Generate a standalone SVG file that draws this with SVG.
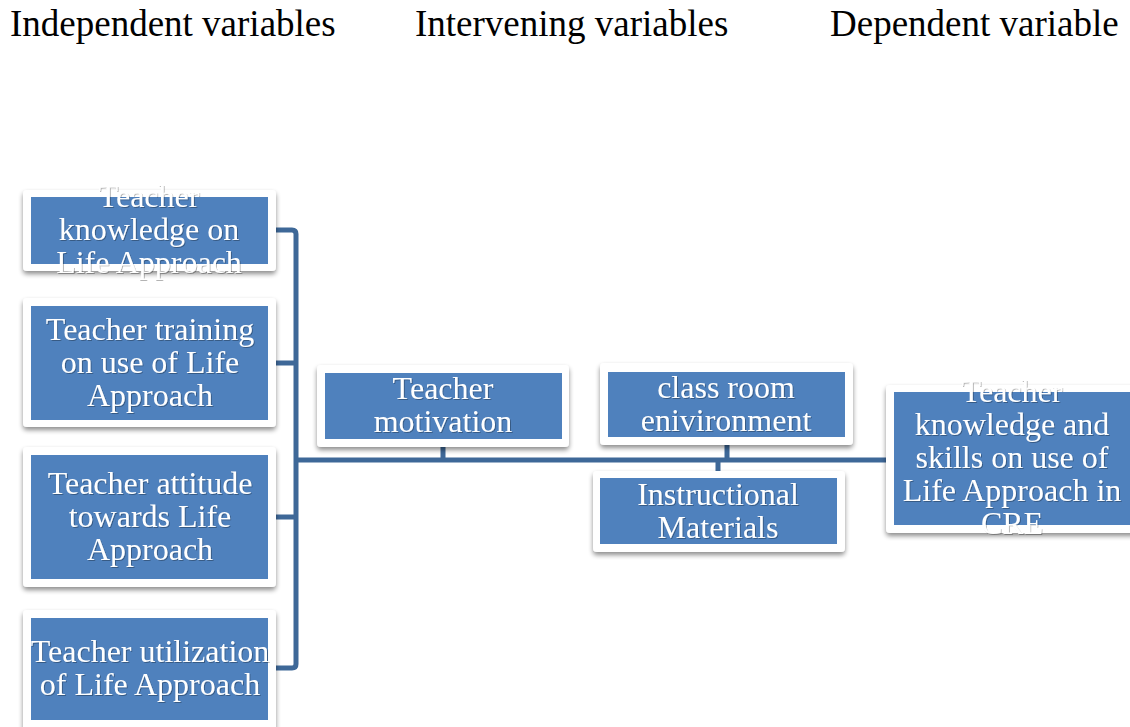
<svg xmlns="http://www.w3.org/2000/svg" width="1130" height="727" viewBox="0 0 1130 727">
<defs>
<filter id="sh" x="-10%" y="-10%" width="120%" height="130%">
<feGaussianBlur in="SourceAlpha" stdDeviation="2.5"/>
<feOffset dx="0" dy="3" result="b"/>
<feComponentTransfer><feFuncA type="linear" slope="0.45"/></feComponentTransfer>
<feMerge><feMergeNode/><feMergeNode in="SourceGraphic"/></feMerge>
</filter>
<filter id="tsh" x="-5%" y="-10%" width="110%" height="130%">
<feGaussianBlur in="SourceAlpha" stdDeviation="0.6"/>
<feOffset dx="0.5" dy="1" result="b"/>
<feComponentTransfer><feFuncA type="linear" slope="0.3"/></feComponentTransfer>
<feMerge><feMergeNode/><feMergeNode in="SourceGraphic"/></feMerge>
</filter>
</defs>
<style>
.hdr{font-family:"Liberation Serif","Times New Roman",serif;font-size:37px;fill:#000}
.frame{fill:#fff;filter:url(#sh)}
.blue{fill:#4f81bd}
.lbl{font-family:"Liberation Serif","Times New Roman",serif;font-size:32px;fill:#fff;text-anchor:middle;filter:url(#tsh)}
.conn{fill:none;stroke:#3e6898;stroke-width:5}
</style>
<rect width="1130" height="727" fill="#fff"/>
<g id="headers">
<text class="hdr" x="10" y="36">Independent variables</text>
<text class="hdr" x="415" y="36">Intervening variables</text>
<text class="hdr" x="830" y="36">Dependent variable</text>
</g>
<g id="connectors">
<path class="conn" d="M276 230 H292 Q296 230 296 234 V664 Q296 668 292 668 H276"/>
<path class="conn" d="M276 363 H296 M276 517 H296"/>
<path class="conn" d="M296 460 H886"/>
<path class="conn" d="M443 446 V460 M727 445 V460 M718 460 V471"/>
</g>
<g id="n1">
<rect class="frame" x="23" y="190" width="253" height="81" rx="4"/>
<rect class="blue" x="31" y="197" width="237" height="67"/>
<text class="lbl" x="149" y="207">Teacher</text>
<text class="lbl" x="149" y="240">knowledge on</text>
<text class="lbl" x="149" y="273">Life Approach</text>
</g>
<g id="n2">
<rect class="frame" x="23" y="298" width="253" height="129" rx="4"/>
<rect class="blue" x="31" y="306" width="237" height="114"/>
<text class="lbl" x="150" y="340">Teacher training</text>
<text class="lbl" x="150" y="373">on use of Life</text>
<text class="lbl" x="150" y="406">Approach</text>
</g>
<g id="n3">
<rect class="frame" x="23" y="447" width="253" height="140" rx="4"/>
<rect class="blue" x="31" y="455" width="237" height="124"/>
<text class="lbl" x="150" y="494">Teacher attitude</text>
<text class="lbl" x="150" y="527">towards Life</text>
<text class="lbl" x="150" y="560">Approach</text>
</g>
<g id="n4">
<rect class="frame" x="23" y="610" width="253" height="125" rx="4"/>
<rect class="blue" x="31" y="618" width="237" height="102"/>
<text class="lbl" x="150" y="662">Teacher utilization</text>
<text class="lbl" x="150" y="695">of Life Approach</text>
</g>
<g id="n5">
<rect class="frame" x="317" y="365" width="252" height="82" rx="4"/>
<rect class="blue" x="325" y="373" width="237" height="66"/>
<text class="lbl" x="443" y="399">Teacher</text>
<text class="lbl" x="443" y="432">motivation</text>
</g>
<g id="n6">
<rect class="frame" x="600" y="363" width="253" height="82" rx="4"/>
<rect class="blue" x="608" y="372" width="237" height="65"/>
<text class="lbl" x="726" y="398">class room</text>
<text class="lbl" x="726" y="431">enivironment</text>
</g>
<g id="n7">
<rect class="frame" x="593" y="471" width="252" height="81" rx="4"/>
<rect class="blue" x="600" y="478" width="237" height="66"/>
<text class="lbl" x="718" y="505">Instructional</text>
<text class="lbl" x="718" y="538">Materials</text>
</g>
<g id="n8">
<rect class="frame" x="886" y="385" width="260" height="148" rx="4"/>
<rect class="blue" x="894" y="392" width="250" height="133"/>
<text class="lbl" x="1012" y="402">Teacher</text>
<text class="lbl" x="1012" y="435">knowledge and</text>
<text class="lbl" x="1012" y="468">skills on use of</text>
<text class="lbl" x="1012" y="501">Life Approach in</text>
<text class="lbl" x="1012" y="534">CRE</text>
</g>
</svg>
